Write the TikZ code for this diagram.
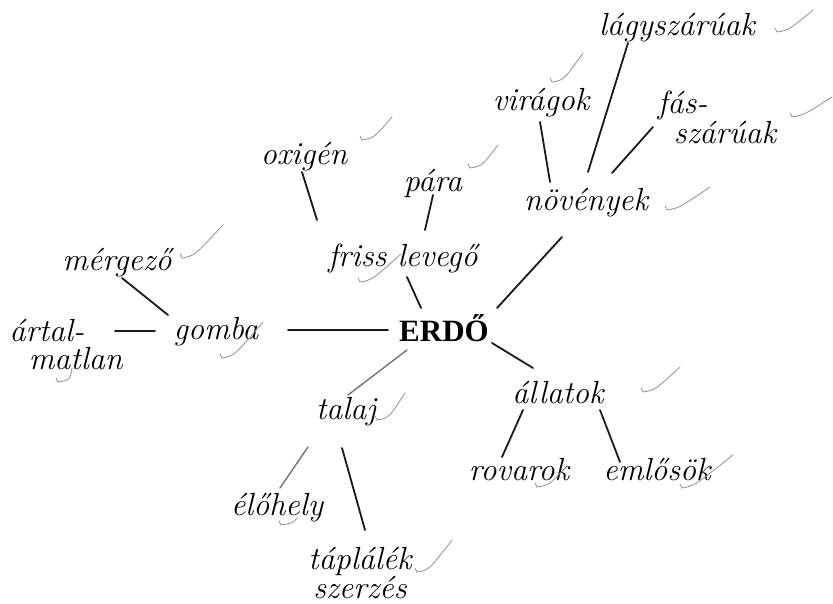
\documentclass[tikz,border=0pt]{standalone}
\usepackage{fontspec}
\newfontfamily\erdofont{Liberation Serif}
\newcommand{\hand}{\fontsize{32}{28}\selectfont\itshape}
% kis pipa a szavak mellett
\newcommand{\pipa}[2]{\draw[pipa] #1 ++(-2,-4) -- #1 .. controls +(12,-2) .. #2;}

\begin{document}
\begin{tikzpicture}
[x=1pt, y=-1pt,
    every node/.style={font=\hand, inner sep=1pt, align=center},
    link/.style={draw=black!90, line width=1.8pt, line cap=round},
    halvany/.style={link, draw=black!55, line width=1.4pt},
    pipa/.style={draw=black!40, line width=0.9pt, line cap=round}
    ]
\useasboundingbox (0,0) rectangle (833,604);

% kozep
\node (erdo) at (444,328) [font=\erdofont\bfseries\fontsize{31}{32}\selectfont] {ERDŐ};

% bal oldal
\node (gomba) at (216,332) {gomba};
\node (artal) at (66,345) [align=left] {ártal-\\\hspace*{0.6em}matlan};
\node (merg) at (117,263) {mérgező};

% fent
\node (levego) at (403,258) {friss levegő};
\node (oxigen) at (304,157) {oxigén};
\node (para) at (433,183) {pára};

\node (noveny) at (586,203) {növények};
\node (virag) at (541,103) {virágok};
\node (lagy) at (677,28) {lágyszárúak};
\node (fas) at (717,117) [align=left] {fás-\\\hspace*{0.5em}szárúak};

% lent
\node (talaj) at (346,412) {talaj};
\node (eloh) at (277,508) {élőhely};
\node (taplal) at (360,573) {táplálék\\szerzés};

\node (allat) at (558,393) {állatok};
\node (rovar) at (519,470) {rovarok};
\node (emlos) at (657,470) {emlősök};

% vonalak
\draw[link] ([shift={(-56,2)}]erdo.center) -- ([shift={(72,-2)}]gomba.center);
\draw[link] ([shift={(-61,-1)}]gomba.center) -- ([shift={(49,-14)}]artal.center);
\draw[link] ([shift={(-48,-17)}]gomba.center) -- ([shift={(5,15)}]merg.center);
\draw[link] ([shift={(-23,-20)}]erdo.center) -- ([shift={(4,19)}]levego.center);
\draw[link] ([shift={(-86,-38)}]levego.center) -- ([shift={(-2,15)}]oxigen.center);
\draw[link] ([shift={(22,-28)}]levego.center) -- ([shift={(0,12)}]para.center);
\draw[link] ([shift={(53,-20)}]erdo.center) -- ([shift={(-24,34)}]noveny.center);
\draw[link] ([shift={(-36,-21)}]noveny.center) -- ([shift={(-1,19)}]virag.center);
\draw[link] ([shift={(2,-31)}]noveny.center) -- ([shift={(-49,15)}]lagy.center);
\draw[link] ([shift={(26,-30)}]noveny.center) -- ([shift={(-64,10)}]fas.center);
\draw[halvany] ([shift={(-37,22)}]erdo.center) -- ([shift={(2,-17)}]talaj.center);
\draw[link] ([shift={(48,15)}]erdo.center) -- ([shift={(-25,-25)}]allat.center);
\draw[halvany] ([shift={(-38,35)}]talaj.center) -- ([shift={(3,-20)}]eloh.center);
\draw[link] ([shift={(-4,36)}]talaj.center) -- ([shift={(5,-43)}]taplal.center);
\draw[link] ([shift={(-35,17)}]allat.center) -- ([shift={(-17,-13)}]rovar.center);
\draw[link] ([shift={(42,17)}]allat.center) -- ([shift={(-37,-8)}]emlos.center);

% pipak
\pipa{(777,32)}{(813,10)}
\pipa{(552,82)}{(583,53)}
\pipa{(792,117)}{(832,97)}
\pipa{(667,210)}{(710,187)}
\pipa{(362,140)}{(392,117)}
\pipa{(470,168)}{(498,145)}
\pipa{(360,282)}{(401,254)}
\pipa{(182,258)}{(223,225)}
\pipa{(222,358)}{(263,322)}
\pipa{(58,382)}{(72,368)}
\pipa{(377,420)}{(405,393)}
\pipa{(281,525)}{(297,518)}
\pipa{(417,572)}{(452,540)}
\pipa{(643,392)}{(680,367)}
\pipa{(537,487)}{(563,470)}
\pipa{(682,488)}{(733,455)}
\end{tikzpicture}
\end{document}
